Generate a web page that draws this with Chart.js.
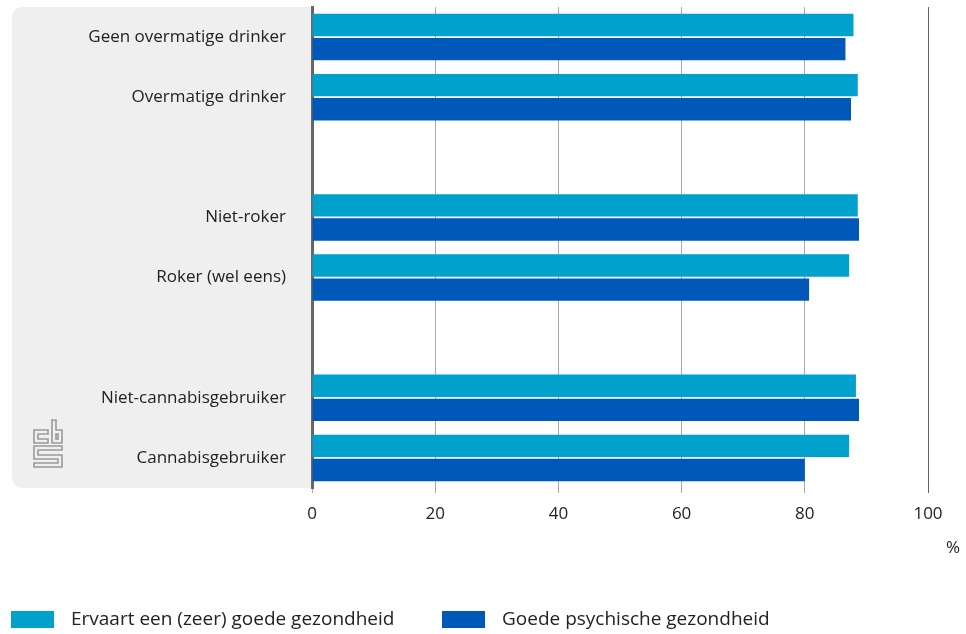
<!DOCTYPE html>
<html lang="nl">
<head>
<meta charset="utf-8">
<title>Gezondheid naar middelengebruik</title>
<script src="https://cdn.jsdelivr.net/npm/chart.js@4/dist/chart.umd.min.js"></script>
<style>
  html, body { margin: 0; padding: 0; background: #fff; }
  #wrap { width: 966px; height: 634px; }
</style>
</head>
<body>
<div id="wrap"><canvas id="myChart" width="966" height="634"></canvas></div>
<script>
// categorieën (lege labels = witruimte tussen de groepen)
const categories = [
  'Geen overmatige drinker',
  'Overmatige drinker',
  '',
  'Niet-roker',
  'Roker (wel eens)',
  '',
  'Niet-cannabisgebruiker',
  'Cannabisgebruiker'
];

// waarden in %
const goedeGezondheid = [87.9, 88.6, null, 88.6, 87.2, null, 88.3, 87.2];
const psychischGezond = [86.6, 87.5, null, 88.8, 80.7, null, 88.8, 80.0];

const seriesLabels = ['Ervaart een (zeer) goede gezondheid', 'Goede psychische gezondheid'];
const xTicks = [0, 20, 40, 60, 80, 100];

const FONT = "'Open Sans', 'Noto Sans', sans-serif";

// grijs vlak links + cbs logo
const panelPlugin = {
  id: 'panel',
  beforeDraw(chart) {
    const ctx = chart.ctx;
    const a = chart.chartArea;
    ctx.save();
    ctx.fillStyle = '#efefef';
    ctx.beginPath();
    ctx.roundRect(12, a.top, a.left - 12, a.bottom - a.top, [10, 0, 0, 10]);
    ctx.fill();

    // logo
    ctx.strokeStyle = '#9a9a9a';
    ctx.lineWidth = 1.6;
    const poly = (pts) => {
      ctx.beginPath();
      ctx.moveTo(pts[0][0], pts[0][1]);
      pts.slice(1).forEach(p => ctx.lineTo(p[0], p[1]));
      ctx.closePath();
      ctx.stroke();
    };
    // c
    poly([[48, 430], [34, 430], [34, 443], [48, 443], [48, 439], [38, 439], [38, 434], [48, 434]]);
    // b
    poly([[52, 420], [56, 420], [56, 430], [62, 430], [62, 443], [52, 443]]);
    ctx.strokeRect(56, 434, 2, 5);
    // s
    poly([[34, 446], [62, 446], [62, 450], [38, 450], [38, 455], [62, 455], [62, 467],
          [34, 467], [34, 463], [58, 463], [58, 459], [34, 459]]);
    ctx.restore();
  }
};

// legenda en eenheid onderaan
const legendPlugin = {
  id: 'bottomLegend',
  afterDraw(chart) {
    const ctx = chart.ctx;
    const spots = [[11, 71], [442, 502]];
    ctx.save();
    chart.data.datasets.forEach((ds, i) => {
      ctx.fillStyle = ds.backgroundColor;
      ctx.fillRect(spots[i][0], 611, 43, 17);
      ctx.fillStyle = '#222';
      ctx.font = '19px ' + FONT;
      ctx.textBaseline = 'middle';
      ctx.textAlign = 'left';
      ctx.fillText(ds.label, spots[i][1], 620);
    });
    ctx.font = '17px ' + FONT;
    ctx.textAlign = 'center';
    ctx.fillText('%', 953, 548);
    ctx.restore();
  }
};

let chartInstance = new Chart(document.getElementById('myChart'), {
  type: 'bar',
  data: {
    labels: categories,
    datasets: [
      {
        label: seriesLabels[0],
        data: goedeGezondheid,
        backgroundColor: '#00a1cd',
        categoryPercentage: 0.8,
        barPercentage: 0.93
      },
      {
        label: seriesLabels[1],
        data: psychischGezond,
        backgroundColor: '#0058b8',
        categoryPercentage: 0.8,
        barPercentage: 0.93
      }
    ]
  },
  options: {
    indexAxis: 'y',
    responsive: false,
    animation: false,
    layout: { padding: { top: 7, right: 38, bottom: 0, left: 0 } },
    plugins: {
      legend: { display: false },
      tooltip: { enabled: false }
    },
    scales: {
      x: {
        min: 0,
        max: 100,
        afterBuildTicks: (scale) => { scale.ticks = xTicks.map(v => ({ value: v })); },
        afterFit: (scale) => { scale.height = 146; },
        border: { display: false },
        grid: {
          color: (c) => c.tick && c.tick.value === 100 ? '#666' : (c.tick && c.tick.value === 0 ? 'rgba(0,0,0,0)' : '#aaa'),
          tickColor: (c) => c.tick && c.tick.value === 100 ? '#666' : '#aaa',
          lineWidth: 1,
          drawTicks: true,
          tickLength: 5
        },
        ticks: {
          padding: 11,
          color: '#222',
          font: { family: FONT, size: 17 }
        }
      },
      y: {
        afterFit: (scale) => {
          scale.width = 312;
          scale.paddingTop = 0;
          scale.paddingBottom = 0;
        },
        grid: { display: false, drawTicks: false },
        border: { display: true, color: '#666', width: 3 },
        ticks: {
          padding: 26,
          color: '#222',
          font: { family: FONT, size: 17 }
        }
      }
    }
  },
  plugins: [panelPlugin, legendPlugin]
});
</script>
</body>
</html>
